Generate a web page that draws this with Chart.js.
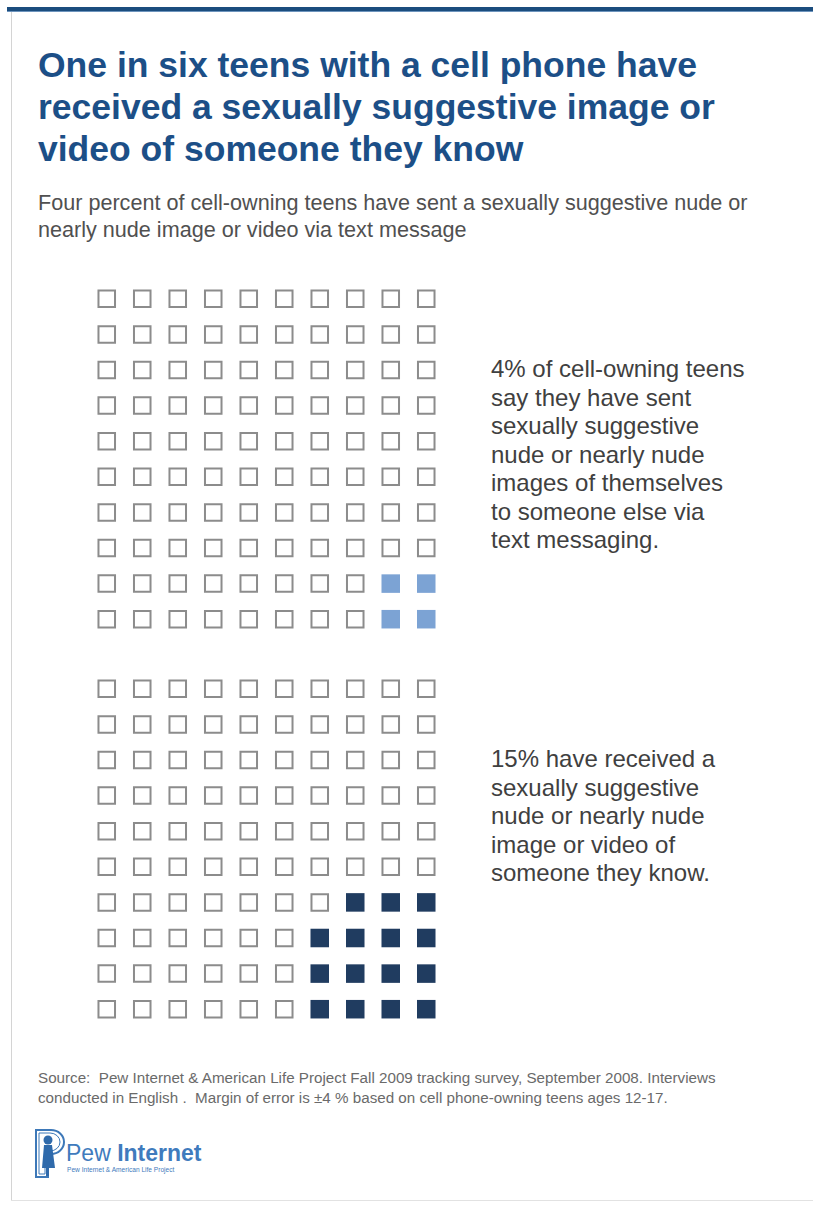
<!DOCTYPE html>
<html>
<head>
<meta charset="utf-8">
<script src="https://cdn.jsdelivr.net/npm/chart.js@4/dist/chart.umd.min.js"></script>
<style>
  html,body{margin:0;padding:0;background:#fff;}
  body{width:813px;height:1207px;position:relative;overflow:hidden;font-family:"Liberation Sans",Arial,sans-serif;}
  .topbar{position:absolute;left:7px;top:7px;width:806px;height:4px;background:#1b4d7e;border-bottom:1px solid #6d94bd;}
  .leftline{position:absolute;left:11px;top:12px;width:1px;height:1188px;background:#d4d4d4;}
  .bottomline{position:absolute;left:11px;top:1200px;width:802px;height:1px;background:#e2e2e2;}
  h1{position:absolute;left:38px;top:44px;margin:0;font-size:35.5px;line-height:42px;font-weight:bold;color:#1c4f87;width:720px;}
  .sub{position:absolute;left:38px;top:189px;margin:0;font-size:21.6px;line-height:27px;color:#505050;width:760px;}
  .note{position:absolute;left:491px;font-size:24px;line-height:28.5px;color:#404040;width:256px;}
  .src{position:absolute;left:38px;top:1068px;font-size:15.2px;line-height:20px;color:#6a6a6a;width:760px;}
  canvas{position:absolute;}
  .logo{position:absolute;left:33px;top:1128px;}
</style>
</head>
<body>
<div class="topbar"></div>
<div class="leftline"></div>
<div class="bottomline"></div>
<h1>One in six teens with a cell phone have received a sexually suggestive image or video of someone they know</h1>
<p class="sub">Four percent of cell-owning teens have sent a sexually suggestive nude or nearly nude image or video via text message</p>

<canvas id="gridSent" width="355" height="356" style="left:89px;top:281px;width:355px;height:356px;"></canvas>
<canvas id="gridReceived" width="355" height="356" style="left:89px;top:671px;width:355px;height:356px;"></canvas>

<div class="note" style="top:355px;">4% of cell-owning teens say they have sent sexually suggestive nude or nearly nude images of themselves to someone else via text messaging.</div>
<div class="note" style="top:745px;">15% have received a sexually suggestive nude or nearly nude image or video of someone they know.</div>

<div class="src">Source:&nbsp; Pew Internet &amp; American Life Project Fall 2009 tracking survey, September 2008. Interviews<br>conducted in English .&nbsp; Margin of error is ±4 % based on cell phone-owning teens ages 12-17.</div>

<svg class="logo" width="180" height="52" viewBox="0 0 180 52">
  <path d="M3 2 H18 A13 12 0 0 1 18 26 H15 V49 H3 Z" fill="none" stroke="#3d78b8" stroke-width="2"/>
  <path d="M6 5 H17 A10 9 0 0 1 17 23 H12 V46 H6 Z" fill="none" stroke="#3d78b8" stroke-width="1"/>
  <circle cx="15" cy="12" r="4.5" fill="#2f6aab"/>
  <path d="M11 17 H19 L22 40 H16 V48 H13 V40 H9 Z" fill="#2f6aab"/>
  <text x="33" y="33" font-family="Liberation Sans, Arial, sans-serif" font-size="23" fill="#3f7bbd">Pew <tspan font-weight="bold">Internet</tspan></text>
  <text x="34" y="44" font-family="Liberation Sans, Arial, sans-serif" font-size="6.6" fill="#3f7bbd">Pew Internet &amp; American Life Project</text>
</svg>

<script>
// waffle grids, 10 x 10 = 100 teens each
const gridCols = 10;
const gridRows = 10;
const sentShare = 4;       // % sent
const receivedShare = 15;  // % received
// filled cells per row, counted from the bottom row up, aligned right
const sentRowFill = [2, 2];
const receivedRowFill = [4, 4, 4, 3];

const emptyColor = '#8c8c8c';
const sentColor = '#7ca3d4';
const receivedColor = '#203c60';

function gridPoints(rowFill) {
  const empty = [], filled = [];
  for (let r = 1; r <= gridRows; r++) {
    const fromBottom = gridRows - r;
    const n = fromBottom < rowFill.length ? rowFill[fromBottom] : 0;
    for (let c = 1; c <= gridCols; c++) {
      if (c > gridCols - n) filled.push({x: c, y: r});
      else empty.push({x: c, y: r});
    }
  }
  return {empty, filled};
}

function drawGrid(id, rowFill, fillColor) {
  const pts = gridPoints(rowFill);
  return new Chart(document.getElementById(id), {
    type: 'scatter',
    data: {datasets: [
      {data: pts.empty, pointStyle: 'rect', pointRadius: 11.7, backgroundColor: '#ffffff', borderColor: emptyColor, borderWidth: 2},
      {data: pts.filled, pointStyle: 'rect', pointRadius: 13.1, backgroundColor: fillColor, borderColor: fillColor, borderWidth: 0}
    ]},
    options: {
      responsive: false, animation: false, events: [],
      layout: {padding: 0, autoPadding: false},
      plugins: {legend: {display: false}, tooltip: {enabled: false}},
      scales: {
        x: {type: 'linear', min: 0.5, max: gridCols + 0.5, display: false},
        y: {type: 'linear', min: 0.5, max: gridRows + 0.5, reverse: true, display: false}
      }
    }
  });
}

drawGrid('gridSent', sentRowFill, sentColor);
drawGrid('gridReceived', receivedRowFill, receivedColor);
</script>
</body>
</html>
